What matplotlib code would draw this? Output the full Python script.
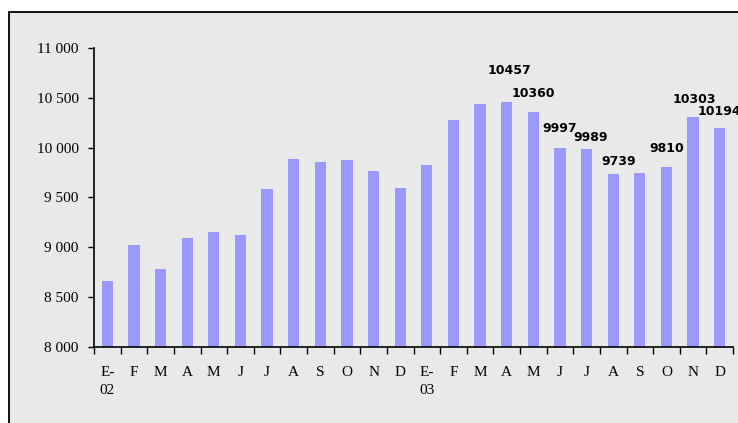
import matplotlib.pyplot as plt
from matplotlib.patches import Rectangle
import numpy as np

# valores (ene-02 a dic-03)
meses = ['E-\n02', 'F', 'M', 'A', 'M', 'J', 'J', 'A', 'S', 'O', 'N', 'D',
         'E-\n03', 'F', 'M', 'A', 'M', 'J', 'J', 'A', 'S', 'O', 'N', 'D']
valores = [8665, 9025, 8785, 9095, 9155, 9125, 9585, 9885, 9855, 9875, 9765, 9595,
           9825, 10275, 10437, 10457, 10360, 9997, 9989, 9739, 9745, 9810, 10303, 10194]
# etiquetas que aparecen sobre algunas barras (indice, desplazamiento en puntos)
etiquetados = [15, 16, 17, 18, 19, 21, 22, 23]
desplaz = [23, 13, 14, 8, 9, 13, 13, 12]
desplaz_x = [2, 0, 0, 3, 4, 0, 1, 0]

fig = plt.figure(figsize=(7.38, 4.23), dpi=100)
fig.patch.set_facecolor('white')

# marco con fondo gris
marco = Rectangle((9 / 738, 0 - 0.05), 1.1, 1 - 12 / 423 + 0.05, transform=fig.transFigure,
                  facecolor='#e9e9e9', edgecolor='black', linewidth=1.3, zorder=-10)
fig.patches.append(marco)

ax = fig.add_axes([94 / 738, 1 - 347 / 423, (733 - 94) / 738, (347 - 48) / 423])
ax.set_facecolor('none')
ax.set_zorder(1)

x = np.arange(len(valores))
ax.bar(x, valores, width=0.42, color='#9999ff', zorder=2)

ax.set_ylim(8000, 11000)
ax.set_xlim(-0.5, len(valores) - 0.5)
yt = np.arange(8000, 11001, 500)
ax.set_yticks(yt)
ax.set_yticklabels([f'{v:,}'.replace(',', ' ') for v in yt],
                   fontfamily='Liberation Serif', fontsize=11)
ax.set_xticks(x)
ax.set_xticklabels(meses, fontfamily='Liberation Serif', fontsize=11, linespacing=1.45)
ax.set_xticks(np.arange(-0.5, len(valores), 1), minor=True)
ax.tick_params(axis='x', which='major', length=0, pad=14)
ax.tick_params(axis='x', which='minor', length=5, width=1, direction='out')
ax.tick_params(axis='y', length=4, width=1, pad=7)

for s in ['top', 'right']:
    ax.spines[s].set_visible(False)
for s in ['left', 'bottom']:
    ax.spines[s].set_linewidth(1.2)

for i, dy, dx in zip(etiquetados, desplaz, desplaz_x):
    ax.annotate(str(valores[i]), (x[i], valores[i]), xytext=(dx, dy),
                textcoords='offset points', ha='center', va='center',
                fontsize=9, fontweight='bold', fontfamily='DejaVu Sans',
                annotation_clip=False, zorder=3)

fig.savefig('out.png', dpi=100)
